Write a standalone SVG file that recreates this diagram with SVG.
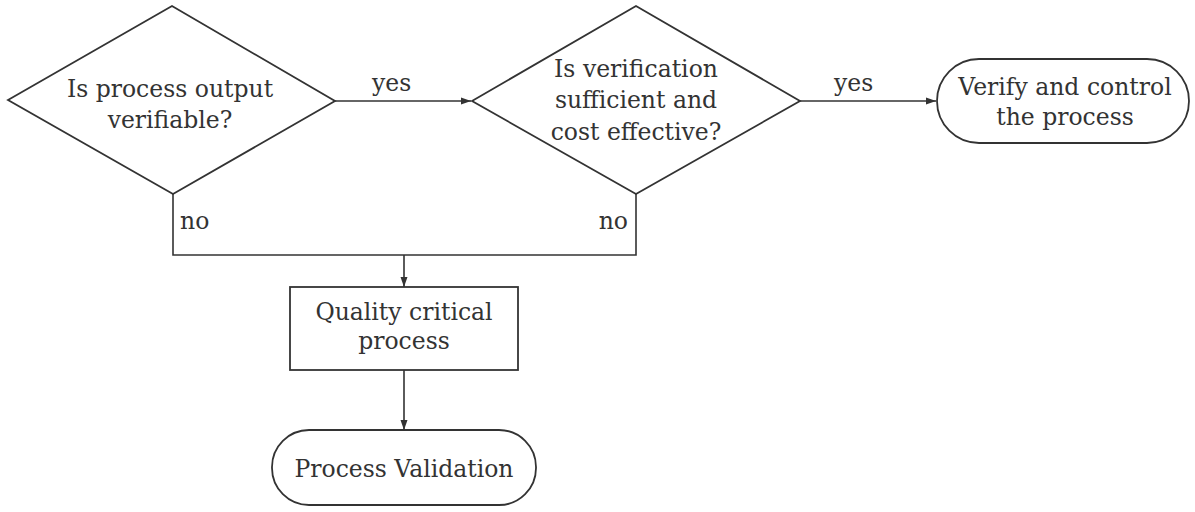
<svg xmlns="http://www.w3.org/2000/svg" width="1195" height="512" viewBox="0 0 1195 512">
<style>
.shape{fill:#fff;stroke:#333;stroke-width:1.8}
.conn{fill:none;stroke:#333;stroke-width:1.6}
text{font-family:"DejaVu Serif","Liberation Serif",serif;font-size:23.5px;fill:#333;text-anchor:middle}
.lbl{text-anchor:start}
</style>
<defs>
<marker id="arr" viewBox="0 0 10 10" refX="10" refY="5" markerWidth="10" markerHeight="10" markerUnits="userSpaceOnUse" orient="auto">
<path d="M0,1.5 L10,5 L0,8.5 Z" fill="#333"/>
</marker>
</defs>
<rect width="1195" height="512" fill="#fff"/>
<g id="connectors">
<line class="conn" x1="335" y1="101" x2="471" y2="101" marker-end="url(#arr)"/>
<line class="conn" x1="800" y1="101" x2="936" y2="101" marker-end="url(#arr)"/>
<polyline class="conn" points="173,194 173,255 636,255 636,194"/>
<line class="conn" x1="404" y1="255" x2="404" y2="287" marker-end="url(#arr)"/>
<line class="conn" x1="404" y1="370" x2="404" y2="430" marker-end="url(#arr)"/>
<text class="lbl" x="372" y="91">yes</text>
<text class="lbl" x="834" y="91">yes</text>
<text class="lbl" x="180" y="229">no</text>
<text x="628" y="229" style="text-anchor:end">no</text>
</g>
<g id="decision1">
<polygon class="shape" points="8,100 172,6 335,101 173,194"/>
<text x="170" y="97">Is process output</text>
<text x="170" y="128">verifiable?</text>
</g>
<g id="decision2">
<polygon class="shape" points="472,101 636,6 800,101 636,194"/>
<text x="636" y="77">Is verification</text>
<text x="636" y="108">sufficient and</text>
<text x="636" y="140">cost effective?</text>
</g>
<g id="verify">
<rect class="shape" x="937" y="59" width="252" height="84" rx="42"/>
<text x="1065" y="95">Verify and control</text>
<text x="1065" y="125">the process</text>
</g>
<g id="quality">
<rect class="shape" x="290" y="287" width="228" height="83"/>
<text x="404" y="320">Quality critical</text>
<text x="404" y="349">process</text>
</g>
<g id="validation">
<rect class="shape" x="272" y="430" width="264" height="75" rx="37"/>
<text x="404" y="477">Process Validation</text>
</g>
</svg>
